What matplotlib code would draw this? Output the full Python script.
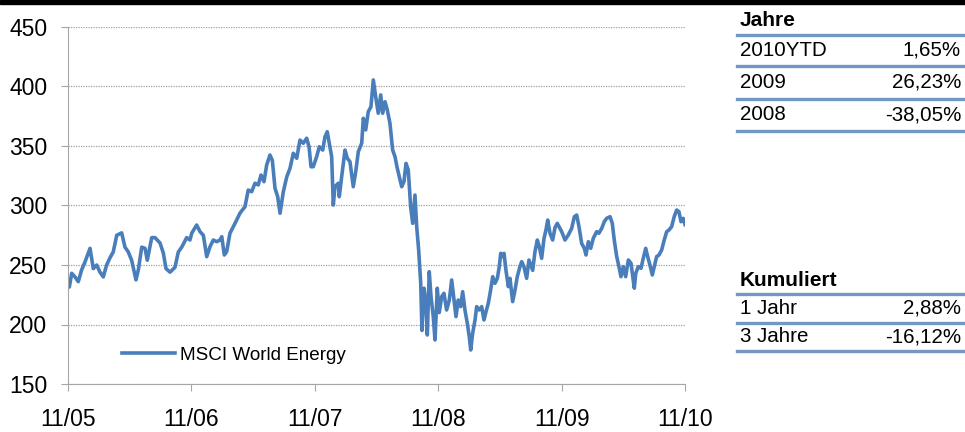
import matplotlib
matplotlib.use("Agg")
import matplotlib.pyplot as plt
from matplotlib.lines import Line2D
from matplotlib.patches import Rectangle

plt.rcParams['font.family'] = ['Liberation Sans', 'DejaVu Sans']

# months after 11/2005 and index level (MSCI World Energy)
months = [
    0.0, 0.13, 0.36, 0.68, 1.0, 1.33, 1.65, 2.14, 2.46, 2.79, 3.11, 3.43, 3.76, 4.08, 4.4,
    4.74, 5.22, 5.54, 5.86, 6.19, 6.61, 6.84, 7.17, 7.49, 7.71, 8.14, 8.46, 8.95, 9.27,
    9.53, 9.92, 10.4, 10.73, 11.06, 11.54, 11.86,
    12.03, 12.51, 12.84, 13.16, 13.49, 13.81, 14.13, 14.46, 14.78, 14.95, 15.2, 15.43,
    15.75, 16.24, 16.72, 17.21, 17.53, 17.86, 18.18, 18.5, 18.77, 19.06, 19.32, 19.64,
    19.87, 20.13, 20.39, 20.62, 20.94, 21.27, 21.59, 21.91, 22.24, 22.56, 22.88, 23.21,
    23.44, 23.63,
    23.85, 24.18, 24.44, 24.77, 24.99, 25.21, 25.41, 25.64, 25.8, 25.96, 26.28, 26.38,
    26.61, 26.94, 27.16, 27.42, 27.74, 27.98, 28.23, 28.56, 28.72, 28.95, 29.2, 29.46,
    29.69, 29.92, 30.17, 30.41, 30.6, 30.83, 31.05, 31.31, 31.57, 31.8, 32.02, 32.22,
    32.45, 32.67, 32.87, 33.09, 33.32, 33.52, 33.74, 33.91, 34.1, 34.3, 34.42, 34.62,
    34.81, 34.94, 35.13, 35.3, 35.52, 35.69, 35.91, 36.1,
    36.34, 36.56, 36.82, 37.08, 37.31, 37.54, 37.73, 37.95, 38.19, 38.38, 38.6, 38.83,
    39.02, 39.16, 39.35, 39.58, 39.74, 39.99, 40.23, 40.45, 40.65, 40.87, 41.1, 41.3,
    41.52, 41.75, 41.94, 42.08, 42.27, 42.4, 42.59, 42.82, 42.98, 43.24, 43.47, 43.69,
    43.95, 44.12, 44.34, 44.6, 44.83, 45.0, 45.19, 45.41, 45.64, 45.83, 46.06, 46.29,
    46.48, 46.65, 46.87, 47.13, 47.36, 47.58,
    48.01, 48.33, 48.65, 48.98, 49.24, 49.47, 49.69, 49.95, 50.21, 50.37, 50.6, 50.83,
    51.08, 51.41, 51.63, 51.9, 52.15, 52.38, 52.71, 52.93, 53.12, 53.36, 53.58, 53.77,
    54.0, 54.23, 54.49, 54.75, 54.97, 55.07, 55.21, 55.46, 55.72, 55.94, 56.18, 56.37,
    56.59, 56.82, 57.01, 57.24, 57.47, 57.73, 57.98, 58.22, 58.44, 58.7, 58.95, 59.19,
    59.41, 59.61, 59.83, 60.0,
]
values = [
    233, 231.5, 243, 240, 236, 246, 252.5, 264, 247, 250, 244, 240, 250, 256, 261,
    275, 277, 265, 261, 254, 237.5, 246, 265, 264, 254, 273, 273, 268.5, 260,
    247, 244, 248, 261, 265, 273, 271,
    276.7, 283.6, 278, 275, 257, 265.4, 271, 269.6, 271, 273.8, 258.4, 261.2,
    276.7, 285, 293.5, 299, 313, 311.6, 318.7, 317.3, 325.6, 320, 334, 342.4,
    338, 314.5, 307.4, 293.5, 311.6, 324, 331.3, 343.9, 339.7, 355, 352.3, 356.5,
    349.4, 332.6,
    332.6, 341, 349.4, 346.6, 357.8, 362, 352.3, 341, 300.4, 315.8, 318.7, 307.4,
    324, 346.6, 339.7, 336.8, 315.8, 328.4, 345.2, 352.3, 373.3, 363.5, 378.8, 383,
    405.5, 391.4, 377.5, 392.9, 377.5, 387.2, 380.3, 369, 346.6, 341, 331.3, 324,
    315.8, 320, 335.4, 329.8, 299, 285, 308.8, 282.2, 262.6, 234.6, 195, 230.5,
    217.8, 191.2, 244.4, 223.4, 206.6, 187, 230.5, 210,
    223.4, 226.2, 212.2, 220.6, 237.4, 220.6, 206.6, 220.6, 215, 227.6, 212.2, 201,
    189.8, 178.6, 192.6, 203.8, 215, 212.2, 215, 203.8, 210.8, 217.8, 229, 240.2,
    234.6, 238.8, 248.6, 259.8, 257, 259.8, 245.5, 231.8, 238.8, 219.2, 229, 240.2,
    248.6, 252.8, 248.6, 238.8, 254.2, 250, 245.5, 261.2, 271, 265.4, 255.6, 272.4,
    279.4, 287.8, 276.7, 271, 281.5, 285,
    278, 271, 275.2, 280.8, 290.6, 292, 282.2, 268.2, 264, 258.4, 269.6, 264,
    272.4, 278, 276.7, 280.8, 286.4, 289.2, 290.6, 285, 271, 257, 248.6, 240.2,
    248.6, 240.2, 254.2, 251.4, 237.4, 230.5, 243, 248.6, 247.2, 255.6, 264, 257,
    250, 241.6, 248.6, 257, 258.4, 262.6, 271, 278, 279.4, 282.2, 290.6, 296.2,
    294.8, 286.4, 289.2, 284,
]

tick_months = [0, 12, 24, 36, 48, 60]
tick_labels = ['11/05', '11/06', '11/07', '11/08', '11/09', '11/10']
y_ticks = [150, 200, 250, 300, 350, 400, 450]
series_name = 'MSCI World Energy'

years_head = 'Jahre'
years_labels = ['2010YTD', '2009', '2008']
years_values = ['1,65%', '26,23%', '-38,05%']
cum_head = 'Kumuliert'
cum_labels = ['1 Jahr', '3 Jahre']
cum_values = ['2,88%', '-16,12%']

W, H = 965, 432
fig = plt.figure(figsize=(W / 100, H / 100), dpi=100)
ax = fig.add_axes([68 / W, 1 - 384 / H, 617 / W, 357 / H])

ax.plot(months, values, color='#4a7ebb', lw=2.6, label=series_name, solid_joinstyle='round')
ax.set_xlim(0, 60)
ax.set_ylim(150, 450)
ax.set_yticks(y_ticks)
ax.set_xticks(tick_months)
ax.set_xticklabels(tick_labels)
ax.grid(axis='y', color='#a0a0a0', lw=0.9, ls=(0, (1, 1)))
ax.set_axisbelow(True)
for s in ['top', 'right']:
    ax.spines[s].set_visible(False)
for s in ['left', 'bottom']:
    ax.spines[s].set_color('#a6a6a6')
ax.tick_params(axis='both', colors='#a6a6a6', labelcolor='black', labelsize=16.5, length=5)
ax.tick_params(axis='y', pad=10)
ax.tick_params(axis='x', pad=12)

ax.legend(loc='center left', bbox_to_anchor=(0.087, 0.081), frameon=False, fontsize=13.6,
          handlelength=2.8, handletextpad=0.27, borderpad=0, borderaxespad=0)

# black bar on top
fig.add_artist(Rectangle((0, 1 - 4 / H), 1, 4 / H, transform=fig.transFigure, color='black'))


def fx(x):
    return x / W


def fy(y):
    return 1 - y / H


def rule(y):
    fig.add_artist(Line2D([fx(737), fx(963)], [fy(y), fy(y)], color='#7398c4', lw=2.4))


fs = 14.8
fig.text(fx(740), fy(21), years_head, fontsize=15, fontweight='bold', va='center')
rule(34.5)
for i, (lab, val) in enumerate(zip(years_labels, years_values)):
    yc = 50 + i * 32.5
    fig.text(fx(740), fy(yc), lab, fontsize=fs, va='center')
    fig.text(fx(961), fy(yc), val, fontsize=fs, va='center', ha='right')
    rule(66.3 + i * 32.4)

fig.text(fx(740), fy(280), cum_head, fontsize=15, fontweight='bold', va='center')
rule(293.5)
for i, (lab, val) in enumerate(zip(cum_labels, cum_values)):
    yc = 308.3 + i * 28.5
    fig.text(fx(740), fy(yc), lab, fontsize=fs, va='center')
    fig.text(fx(961), fy(yc), val, fontsize=fs, va='center', ha='right')
    rule(322.7 + i * 28.5)

fig.savefig('out.png', dpi=100)
